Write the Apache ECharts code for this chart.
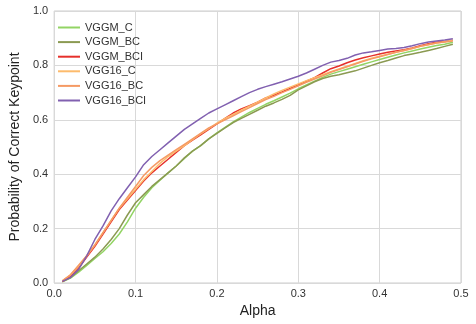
<!DOCTYPE html>
<html>
<head>
<meta charset="utf-8">
<script src="https://cdn.jsdelivr.net/npm/echarts@6/dist/echarts.min.js"></script>
<style>
  html, body { margin: 0; padding: 0; background: #fff; }
  #main { width: 476px; height: 324px; }
</style>
</head>
<body>
<div id="main"></div>
<script>
// alpha 0.01 .. 0.49
var alpha = [];
for (var i = 1; i <= 49; i++) alpha.push(i / 100);

var names = ['VGGM_C', 'VGGM_BC', 'VGGM_BCI', 'VGG16_C', 'VGG16_BC', 'VGG16_BCI'];
var colors = ['#92d464', '#8b9a52', '#e6302b', '#fdbb6c', '#f59a64', '#8160b0'];

var vggmC = [0.004,0.018,0.040,0.065,0.090,0.115,0.145,0.180,0.225,0.275,
  0.315,0.350,0.378,0.405,0.430,0.458,0.485,0.505,0.530,0.552,
  0.572,0.592,0.610,0.627,0.642,0.657,0.670,0.684,0.698,0.714,
  0.728,0.742,0.756,0.768,0.777,0.786,0.795,0.804,0.813,0.822,
  0.830,0.838,0.846,0.853,0.860,0.867,0.873,0.878,0.885];
var vggmBC = [0.005,0.020,0.045,0.070,0.095,0.125,0.160,0.200,0.250,0.295,
  0.325,0.355,0.380,0.405,0.430,0.460,0.485,0.505,0.530,0.550,
  0.570,0.590,0.605,0.620,0.635,0.650,0.662,0.675,0.690,0.710,
  0.725,0.740,0.752,0.760,0.766,0.773,0.780,0.790,0.800,0.810,
  0.818,0.827,0.836,0.842,0.848,0.855,0.862,0.870,0.878];
var vggmBCI = [0.005,0.025,0.055,0.095,0.135,0.180,0.225,0.270,0.305,0.340,
  0.375,0.405,0.430,0.455,0.480,0.505,0.525,0.545,0.565,0.585,
  0.605,0.625,0.640,0.652,0.665,0.680,0.690,0.702,0.715,0.728,
  0.742,0.755,0.772,0.788,0.798,0.810,0.820,0.828,0.835,0.842,
  0.848,0.853,0.858,0.864,0.872,0.880,0.885,0.888,0.892];
var vgg16C = [0.008,0.030,0.062,0.100,0.140,0.185,0.230,0.275,0.310,0.345,
  0.380,0.410,0.440,0.465,0.485,0.505,0.527,0.548,0.568,0.588,
  0.605,0.620,0.635,0.650,0.665,0.680,0.695,0.708,0.720,0.732,
  0.744,0.755,0.766,0.777,0.787,0.797,0.807,0.817,0.826,0.834,
  0.841,0.848,0.855,0.862,0.870,0.877,0.882,0.887,0.893];
var vgg16BC = [0.008,0.030,0.065,0.100,0.140,0.185,0.230,0.275,0.315,0.355,
  0.395,0.425,0.450,0.470,0.490,0.510,0.530,0.550,0.570,0.585,
  0.600,0.615,0.630,0.645,0.660,0.674,0.686,0.700,0.712,0.725,
  0.738,0.750,0.762,0.775,0.785,0.795,0.805,0.815,0.824,0.832,
  0.840,0.848,0.855,0.862,0.870,0.876,0.882,0.886,0.890];
var vgg16BCI = [0.006,0.020,0.050,0.100,0.160,0.210,0.265,0.310,0.350,0.390,
  0.435,0.465,0.490,0.515,0.540,0.565,0.585,0.605,0.625,0.640,
  0.655,0.670,0.685,0.700,0.712,0.722,0.731,0.740,0.750,0.760,
  0.772,0.786,0.800,0.812,0.818,0.826,0.838,0.846,0.850,0.855,
  0.860,0.862,0.866,0.872,0.880,0.886,0.890,0.893,0.898];

var values = [vggmC, vggmBC, vggmBCI, vgg16C, vgg16BC, vgg16BCI];

var xTicks = ['0.0', '0.1', '0.2', '0.3', '0.4', '0.5'];
var yTicks = ['0.0', '0.2', '0.4', '0.6', '0.8', '1.0'];

var font = 'Liberation Sans, Arial, sans-serif';

var series = names.map(function (n, k) {
  return {
    name: n,
    type: 'line',
    showSymbol: false,
    symbol: 'none',
    lineStyle: { width: 1.5, color: colors[k] },
    itemStyle: { color: colors[k] },
    data: alpha.map(function (a, i) { return [a, values[k][i]]; })
  };
});

var myChart = echarts.init(document.getElementById('main'));
var option = {
  animation: false,
  textStyle: { fontFamily: font },
  grid: {
    left: 46, right: 15, top: 11, bottom: 41,
    show: true, borderColor: '#cccccc', borderWidth: 1
  },
  legend: {
    orient: 'vertical',
    left: 53, top: 17,
    icon: 'rect',
    itemWidth: 22, itemHeight: 2,
    itemGap: 3.6,
    textStyle: { fontSize: 11, color: '#333', lineHeight: 11, fontFamily: font },
    data: names
  },
  xAxis: {
    type: 'value',
    min: 0, max: 0.5, interval: 0.1,
    name: 'Alpha',
    nameLocation: 'middle',
    nameGap: 20,
    nameTextStyle: { fontSize: 14, color: '#222', fontFamily: font },
    axisLine: { show: false },
    axisTick: { show: false },
    axisLabel: {
      fontSize: 11, color: '#333', margin: 5,
      formatter: function (v) { return xTicks[Math.round(v * 10)]; }
    },
    splitLine: { lineStyle: { color: '#d9d9d9', width: 1 } }
  },
  yAxis: {
    type: 'value',
    min: 0, max: 1, interval: 0.2,
    name: 'Probability of Correct Keypoint',
    nameLocation: 'middle',
    nameGap: 28,
    nameTextStyle: { fontSize: 14, color: '#222', fontFamily: font },
    axisLine: { show: false },
    axisTick: { show: false },
    axisLabel: {
      fontSize: 11, color: '#333', margin: 6,
      formatter: function (v) { return yTicks[Math.round(v * 5)]; }
    },
    splitLine: { lineStyle: { color: '#d9d9d9', width: 1 } }
  },
  series: series
};
myChart.setOption(option);
</script>
</body>
</html>
